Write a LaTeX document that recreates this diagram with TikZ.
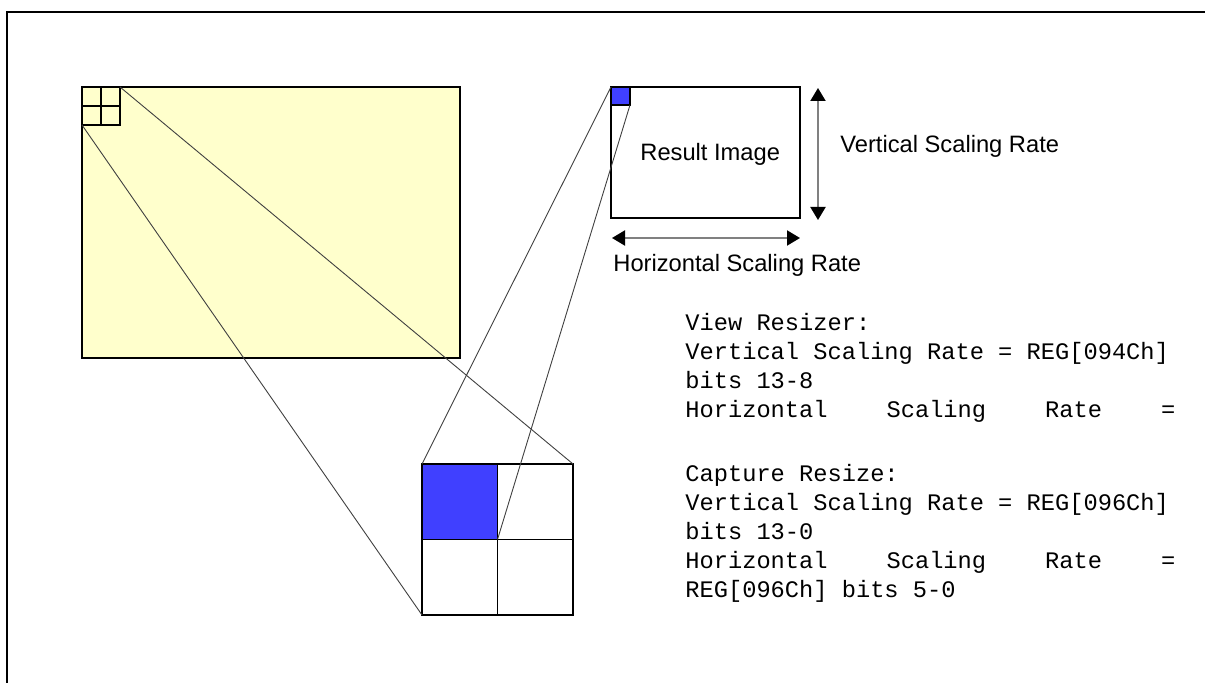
\documentclass[tikz,border=0pt]{standalone}
\usepackage{fontspec}
\setmainfont{Liberation Sans}
\newfontfamily\monofont{Liberation Mono}
\usetikzlibrary{arrows.meta}
\definecolor{paleyellow}{RGB}{255,255,204}
\definecolor{cellblue}{RGB}{64,64,255}
\definecolor{shaftgray}{RGB}{128,128,128}
\tikzset{
  frameline/.style={line width=1pt, line join=miter},
  box/.style={draw, line width=1pt, rectangle, inner sep=0pt, outer sep=0pt},
  cell/.style={draw, line width=0.75pt, rectangle, inner sep=0pt, outer sep=0pt},
  zoomline/.style={line width=0.45pt, draw=black!75},
  dimarrow/.style={draw=shaftgray, line width=1pt,
    {Triangle[length=6.5pt,width=7.5pt,color=black]}-{Triangle[length=6.5pt,width=7.5pt,color=black]}},
  sanslabel/.style={inner sep=0pt, anchor=base west, font=\fontsize{11.85}{14}\selectfont},
  monoline/.style={inner sep=0pt, anchor=base west, font=\monofont\fontsize{11.85}{14}\selectfont}
}
\begin{document}
\begin{tikzpicture}[x=0.5pt,y=-0.5pt]
\useasboundingbox (0,0) rectangle (1205,683);
% outer frame (cut at right and bottom)
\draw[frameline] (1206,12) -- (7,12) -- (7,684);

% source image
\node[box, fill=paleyellow, minimum width=189pt, minimum height=135.5pt] (src) at (271,222.5) {};
\node[cell, minimum width=9.5pt, minimum height=9.5pt] (s11) at (91.5,96.5) {};
\node[cell, minimum width=9.5pt, minimum height=9.5pt] (s12) at (110.5,96.5) {};
\node[cell, minimum width=9.5pt, minimum height=9.5pt] (s21) at (91.5,115.5) {};
\node[cell, minimum width=9.5pt, minimum height=9.5pt] (s22) at (110.5,115.5) {};

% enlarged grid
\node[cell, fill=cellblue, minimum width=37.75pt, minimum height=37.75pt] (b11) at (459.75,501.75) {};
\node[cell, minimum width=37.75pt, minimum height=37.75pt] (b12) at (535.25,501.75) {};
\node[cell, minimum width=37.75pt, minimum height=37.75pt] (b21) at (459.75,577.25) {};
\node[cell, minimum width=37.75pt, minimum height=37.75pt] (b22) at (535.25,577.25) {};

% result image
\node[box, fill=white, minimum width=94.5pt, minimum height=65.5pt] (res) at (705.5,152.5) {};
\node[cell, fill=cellblue, minimum width=9.5pt, minimum height=9pt] (rpix) at (620.5,96) {};

% zoom lines
\draw[zoomline] (s12.north east) -- (b12.north east);
\draw[zoomline] (s21.south west) -- (b21.south west);
\draw[zoomline] (rpix.north west) -- (b11.north west);
\draw[zoomline] (rpix.south east) -- (b11.south east);

% dimension arrows
\coordinate (vtop) at (818,88);
\coordinate (vbot) at (818,220);
\coordinate (hleft) at (612,238);
\coordinate (hright) at (800,238);
\draw[dimarrow] (vtop) -- (vbot);
\draw[dimarrow] (hleft) -- (hright);

% labels
\node[sanslabel] (resl) at (640,161) {Result Image};
\node[sanslabel] (vsr) at (840,153) {Vertical Scaling Rate};
\node[sanslabel] (hsr) at (613,272) {Horizontal Scaling Rate};

% register text
\node[monoline] (m1) at (685,331) {View Resizer:};
\node[monoline] (m2) at (685,360) {Vertical Scaling Rate = REG[094Ch]};
\node[monoline] (m3) at (685,389) {bits 13-8};
\node[monoline] (m4) at (685,418) {\hbox to 245pt{Horizontal\hfill Scaling\hfill Rate\hfill =}};
\node[monoline] (m5) at (685,482) {Capture Resize:};
\node[monoline] (m6) at (685,511) {Vertical Scaling Rate = REG[096Ch]};
\node[monoline] (m7) at (685,540) {bits 13-0};
\node[monoline] (m8) at (685,569) {\hbox to 245pt{Horizontal\hfill Scaling\hfill Rate\hfill =}};
\node[monoline] (m9) at (685,598) {REG[096Ch] bits 5-0};
\end{tikzpicture}
\end{document}
